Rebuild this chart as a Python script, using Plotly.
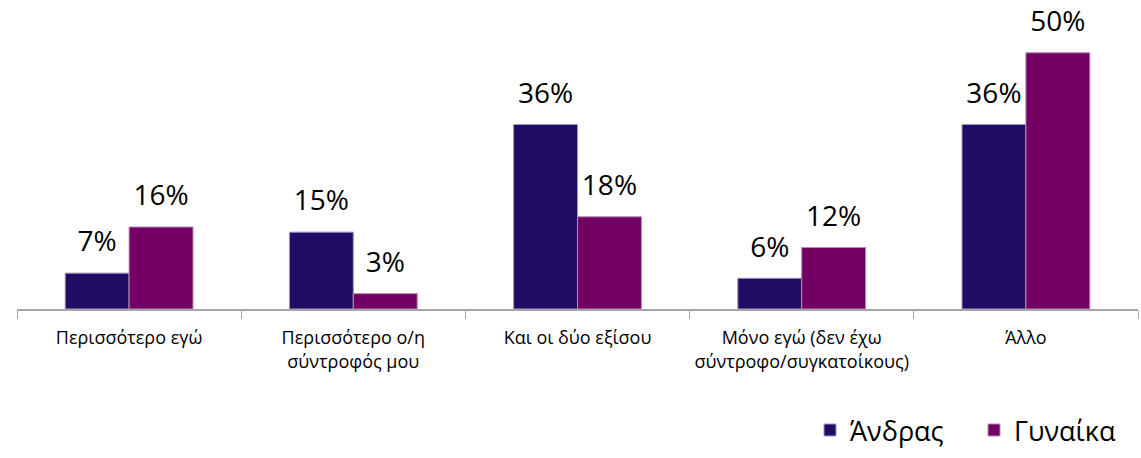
import plotly.graph_objects as go

categories = [
    "Περισσότερο εγώ",
    "Περισσότερο ο/η<br>σύντροφός μου",
    "Και οι δύο εξίσου",
    "Μόνο εγώ (δεν έχω<br>σύντροφο/συγκατοίκους)",
    "Άλλο",
]
andras = [7, 15, 36, 6, 36]
gynaika = [16, 3, 18, 12, 50]

FONT = "Open Sans"
series = [("Άνδρας", andras, "#200c64", "#9f98c0", "a"),
          ("Γυναίκα", gynaika, "#730063", "#b88ab3", "b")]

fig = go.Figure()
for name, vals, col, edge, grp in series:
    fig.add_trace(go.Bar(x=categories, y=vals, name=name, offsetgroup=grp,
                         marker=dict(color=col, line=dict(color=edge, width=1))))
# value labels, lifted a bit above the bars
for name, vals, col, edge, grp in series:
    fig.add_trace(go.Scatter(x=categories, y=vals, mode="markers+text", offsetgroup=grp,
                             text=[f"{v}%" for v in vals], textposition="top center",
                             marker=dict(size=22, opacity=0), showlegend=False,
                             hoverinfo="skip", cliponaxis=False,
                             textfont=dict(size=28, color="#000000", family=FONT)))

fig.update_layout(
    width=1141, height=458,
    margin=dict(l=17, r=3, t=20, b=147),
    barmode="group", bargap=0.43, bargroupgap=0,
    scattermode="group", scattergap=0.43,
    plot_bgcolor="white", paper_bgcolor="white",
    font=dict(family=FONT, color="#000000"),
    legend=dict(orientation="h", x=1, xanchor="right", y=-0.505, yanchor="bottom",
                font=dict(size=27), traceorder="normal", entrywidth=119),
)
fig.update_xaxes(showline=True, linecolor="#a6a6a6", linewidth=1.5, automargin=False,
                 ticks="outside", tickson="boundaries", ticklen=8, tickcolor="#a6a6a6",
                 tickfont=dict(size=18), ticklabelstandoff=12, showgrid=False)
fig.update_yaxes(visible=False, range=[0, 56.4])

fig.write_html("out.html", config={"displayModeBar": False},
               post_script="document.body.style.margin='0';")
